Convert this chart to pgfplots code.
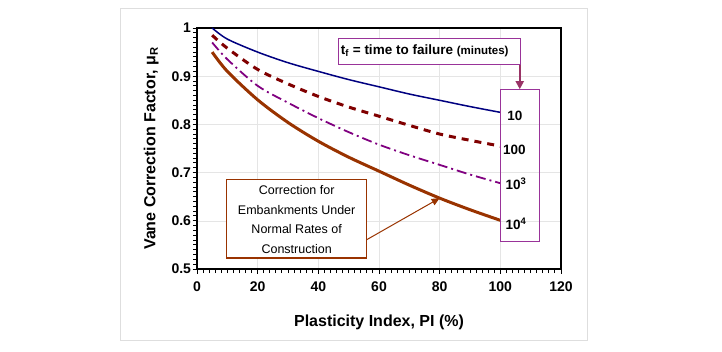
\documentclass[border=0pt]{standalone}
\usepackage{fontspec}
\setmainfont{Liberation Sans}
\usepackage{pgfplots}
\pgfplotsset{compat=1.18}
\usetikzlibrary{arrows.meta}
\definecolor{cnavy}{HTML}{000080}
\definecolor{cdred}{HTML}{800000}
\definecolor{cpurp}{HTML}{800080}
\definecolor{cbrown}{HTML}{993300}
\definecolor{cbox}{HTML}{993399}
\definecolor{carrow}{HTML}{993366}
\begin{document}
\begin{tikzpicture}
\useasboundingbox (0pt,0pt) rectangle (722pt,351pt);
\draw[draw=black!13, line width=0.8pt] (120pt,11pt) rectangle (587pt,343pt);
\begin{axis}[
  at={(197pt,82pt)}, anchor=south west,
  scale only axis, width=364pt, height=241pt,
  xmin=0, xmax=120, ymin=0.5, ymax=1,
  xtick={0,20,...,120}, ytick={0.5,0.6,...,1.0},
  minor x tick num=9, minor y tick num=9,
  yticklabels={0.5,0.6,0.7,0.8,0.9,1},
  tick align=outside, tick pos=left,
  major tick length=4.5pt, minor tick length=4pt,
  every tick/.style={black, line width=1pt},
  axis line style={line width=1.6pt},
  grid=major, major grid style={draw=black!10, line width=0.5pt},
  /pgf/number format/assume math mode=true,
  ticklabel style={font=\fontsize{14}{14}\selectfont\bfseries},
  xticklabel style={yshift=-5pt},
  yticklabel style={xshift=2pt},
  xlabel={Plasticity Index, PI (\%)},
  ylabel={Vane Correction Factor, μ\textsubscript{R}},
  label style={font=\fontsize{16}{16}\selectfont\bfseries},
  xlabel style={yshift=-16pt},
  ylabel style={yshift=6pt},
  clip=false,
]
\addplot[cnavy, line width=1.5pt, smooth] coordinates {
 (5,1.0) (10,0.977) (20,0.95) (30,0.928) (40,0.91) (50,0.893) (60,0.878) (70,0.863) (80,0.85) (90,0.837) (100,0.825)};
\addplot[cdred, line width=3pt, smooth, dash pattern=on 7pt off 6pt] coordinates {
 (5,0.985) (10,0.958) (20,0.914) (30,0.884) (40,0.858) (50,0.836) (60,0.817) (70,0.798) (80,0.78) (90,0.767) (100,0.755)};
\addplot[cpurp, line width=1.8pt, smooth, dash pattern=on 10pt off 4pt on 2pt off 4pt] coordinates {
 (5,0.97) (10,0.935) (20,0.88) (30,0.845) (40,0.813) (50,0.784) (60,0.758) (70,0.736) (80,0.716) (90,0.696) (100,0.678)};
\addplot[cbrown, line width=3pt, smooth] coordinates {
 (5,0.95) (10,0.91) (20,0.851) (30,0.804) (40,0.765) (50,0.732) (60,0.703) (70,0.674) (80,0.647) (90,0.623) (100,0.601)};
% right label box
\draw[cbox, line width=1pt] (axis cs:100.2,0.557) rectangle (axis cs:113,0.873);
\node[font=\fontsize{13.5}{13.5}\selectfont\bfseries] at (axis cs:104.8,0.818) {10};
\node[font=\fontsize{13.5}{13.5}\selectfont\bfseries] at (axis cs:104.6,0.748) {100};
\node[font=\fontsize{13.5}{13.5}\selectfont\bfseries] at (axis cs:105.2,0.677) {10\textsuperscript{3}};
\node[font=\fontsize{13.5}{13.5}\selectfont\bfseries] at (axis cs:105.2,0.594) {10\textsuperscript{4}};
% top box
\draw[cbox, line width=1pt, fill=white] (axis cs:46.5,0.924) rectangle (axis cs:106.6,0.979);
\node[font=\fontsize{13.5}{13.5}\selectfont\bfseries, anchor=west, inner sep=0pt] at (axis cs:47.4,0.953) {t\textsubscript{f} = time to failure {\fontsize{11.5}{11.5}\selectfont(minutes)}};
\draw[carrow, line width=1.8pt, -{Triangle[length=8pt,width=8pt]}] (axis cs:106.4,0.924) -- (axis cs:106.4,0.873);
% comment box
\draw[cbrown, line width=1.2pt, fill=white] (axis cs:9.7,0.523) rectangle (axis cs:56,0.685);
\node[align=center, font=\fontsize{12.5}{19.5}\selectfont] at (axis cs:32.85,0.603) {Correction for\\Embankments Under\\Normal Rates of\\Construction};
\draw[cbrown, line width=1pt, -{Triangle[length=8pt,width=7pt]}] (axis cs:56,0.561) -- (axis cs:80,0.647);
\end{axis}
\end{tikzpicture}
\end{document}
